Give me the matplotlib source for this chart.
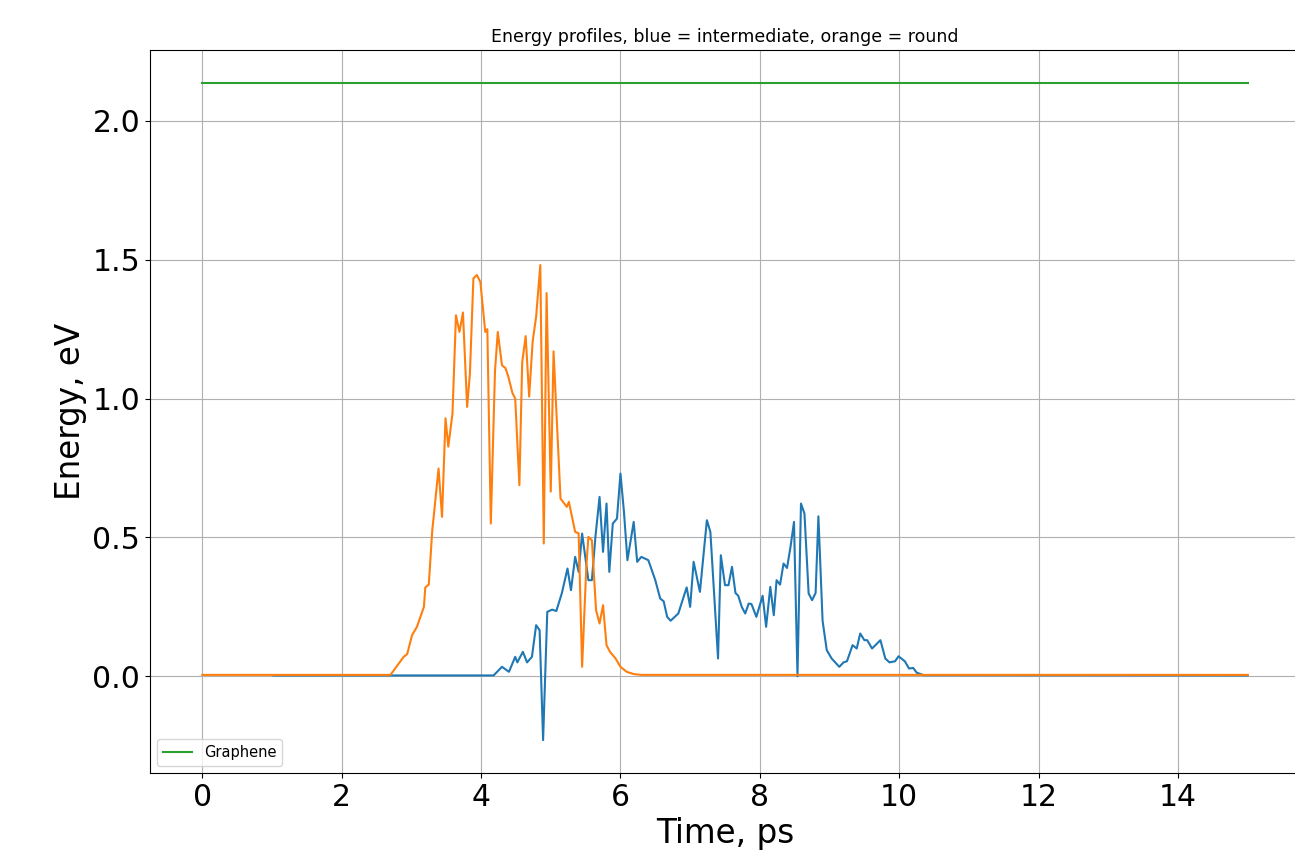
import matplotlib
matplotlib.use('Agg')
import matplotlib.pyplot as plt

# intermediate (blue) energy profile
t_inter = [1.02, 4.18, 4.30, 4.40, 4.49, 4.52, 4.60, 4.66, 4.73, 4.79, 4.84, 4.89,
           4.95, 5.02, 5.08, 5.16, 5.24, 5.29, 5.35, 5.40, 5.45, 5.54, 5.59, 5.64,
           5.70, 5.75, 5.80, 5.84, 5.89, 5.95, 6.00, 6.05, 6.10, 6.19, 6.24, 6.30,
           6.40, 6.50, 6.57, 6.62, 6.67, 6.72, 6.83, 6.95, 7.00, 7.05, 7.14, 7.24,
           7.29, 7.40, 7.44, 7.50, 7.55, 7.60, 7.65, 7.69, 7.74, 7.79, 7.84, 7.88,
           7.95, 8.04, 8.09, 8.15, 8.20, 8.24, 8.29, 8.34, 8.39, 8.44, 8.49, 8.54,
           8.59, 8.64, 8.70, 8.75, 8.80, 8.84, 8.90, 8.96, 9.03, 9.14, 9.20, 9.25,
           9.33, 9.39, 9.44, 9.50, 9.54, 9.61, 9.73, 9.80, 9.86, 9.94, 9.99, 10.08,
           10.14, 10.20, 10.25, 10.35, 15.0]
e_inter = [0.003, 0.003, 0.034, 0.016, 0.07, 0.05, 0.088, 0.05, 0.07, 0.184, 0.166, -0.23,
           0.232, 0.24, 0.235, 0.30, 0.388, 0.31, 0.43, 0.376, 0.514, 0.346, 0.346, 0.50,
           0.646, 0.448, 0.622, 0.376, 0.55, 0.568, 0.73, 0.593, 0.418, 0.556, 0.412, 0.43,
           0.418, 0.346, 0.28, 0.27, 0.214, 0.20, 0.226, 0.32, 0.25, 0.412, 0.304, 0.562,
           0.52, 0.064, 0.436, 0.328, 0.328, 0.394, 0.30, 0.29, 0.25, 0.226, 0.262, 0.26,
           0.214, 0.29, 0.178, 0.322, 0.22, 0.346, 0.33, 0.406, 0.39, 0.466, 0.556, 0.0,
           0.622, 0.586, 0.298, 0.274, 0.30, 0.576, 0.20, 0.094, 0.064, 0.034, 0.05, 0.054,
           0.112, 0.10, 0.154, 0.13, 0.13, 0.10, 0.13, 0.064, 0.05, 0.054, 0.072, 0.054,
           0.028, 0.03, 0.013, 0.004, 0.003]

# round (orange) energy profile
t_round = [0.0, 2.70, 2.89, 2.94, 3.01, 3.08, 3.18, 3.20, 3.25, 3.30, 3.32, 3.39,
           3.44, 3.49, 3.53, 3.59, 3.64, 3.69, 3.74, 3.80, 3.84, 3.89, 3.94, 3.99,
           4.06, 4.09, 4.14, 4.20, 4.24, 4.30, 4.35, 4.39, 4.45, 4.49, 4.55, 4.59,
           4.64, 4.69, 4.74, 4.79, 4.85, 4.90, 4.94, 5.00, 5.04, 5.14, 5.23, 5.26,
           5.35, 5.40, 5.45, 5.51, 5.54, 5.59, 5.65, 5.70, 5.75, 5.80, 5.85, 5.93,
           6.00, 6.09, 6.19, 6.30, 15.0]
e_round = [0.005, 0.005, 0.07, 0.08, 0.148, 0.178, 0.25, 0.32, 0.33, 0.526, 0.574, 0.748,
           0.574, 0.929, 0.827, 0.946, 1.30, 1.24, 1.31, 0.97, 1.09, 1.433, 1.445, 1.42,
           1.24, 1.25, 0.55, 1.10, 1.24, 1.12, 1.11, 1.08, 1.02, 1.00, 0.688, 1.13,
           1.225, 1.007, 1.205, 1.295, 1.481, 0.478, 1.38, 0.665, 1.17, 0.64, 0.61, 0.628,
           0.52, 0.515, 0.034, 0.394, 0.502, 0.49, 0.238, 0.19, 0.256, 0.112, 0.088, 0.064,
           0.034, 0.016, 0.008, 0.005, 0.005]

# graphene reference level
t_graphene = [0.0, 15.0]
e_graphene = [2.137, 2.137]

fig = plt.figure(figsize=(12.95, 8.51), dpi=100)
ax = fig.add_axes([150 / 1295, 1 - 773 / 851, 1150 / 1295, 723 / 851])

ax.plot(t_inter, e_inter)
ax.plot(t_round, e_round)
ax.plot(t_graphene, e_graphene, label='Graphene')

ax.set_title('Energy profiles, blue = intermediate, orange = round', fontsize=12.5)
ax.set_xlabel('Time, ps', fontsize=23.5)
ax.set_ylabel('Energy, eV', fontsize=23.5)
ax.tick_params(labelsize=21.5)
ax.set_xticks(range(0, 15, 2))
ax.grid(True)
ax.legend(loc='lower left', fontsize=10.5)
# the original picture is cut just before the right frame edge
ax.spines['right'].set_visible(False)

plt.savefig('out.png', dpi=100)
